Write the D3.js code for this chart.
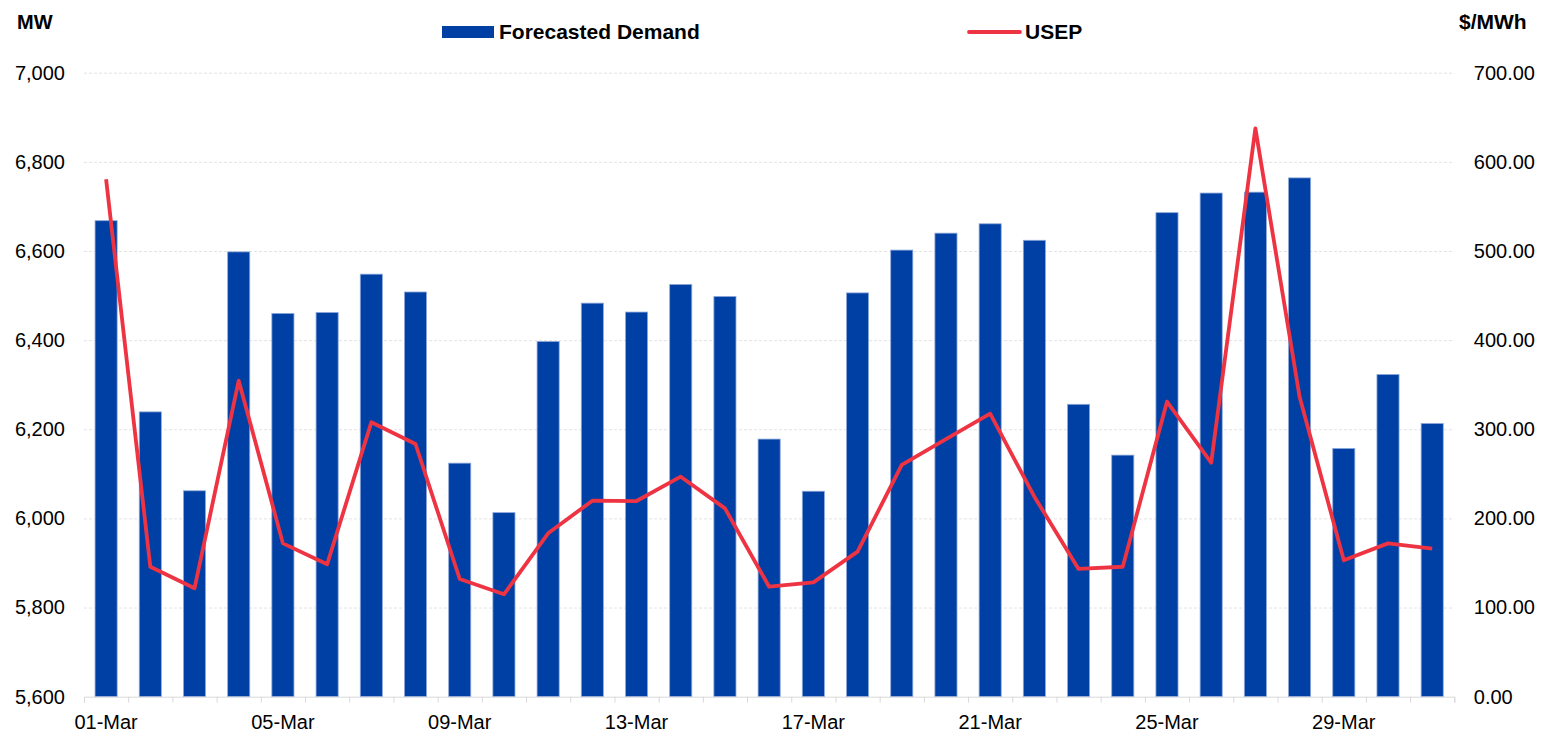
<!DOCTYPE html>
<html>
<head>
<meta charset="utf-8">
<script src="https://cdn.jsdelivr.net/npm/d3@7"></script>
<style>
  body { margin: 0; background: #fff; }
  text { font-family: "Liberation Sans", Arial, sans-serif; fill: #000; }
</style>
</head>
<body>
<div id="chart"></div>
<script>
// March daily values
let days = d3.range(1, 32);
let demand = [6668, 6239, 6062, 6598, 6460, 6462, 6548, 6508, 6124, 6013,
              6397, 6483, 6463, 6525, 6498, 6178, 6061, 6506, 6602, 6640,
              6661, 6624, 6256, 6142, 6686, 6730, 6732, 6764, 6157, 6323, 6213];
let usep = [580.4, 145.8, 121.6, 354.5, 172.0, 148.5, 307.8, 283.5, 132.0, 114.9,
            183.3, 219.9, 219.5, 246.8, 211.3, 123.4, 128.3, 162.7, 260.0, 289.0,
            317.5, 224.4, 143.3, 145.8, 331.0, 262.5, 637.6, 336.5, 153.0, 172.0, 166.0];
let leftTicks = [5600, 5800, 6000, 6200, 6400, 6600, 6800, 7000];
let rightTicks = [0, 100, 200, 300, 400, 500, 600, 700];
let labelDays = [1, 5, 9, 13, 17, 21, 25, 29];

let W = 1553, H = 736;
let margin = {top: 72.7, right: 98.7, bottom: 39.3, left: 84};
let x0 = margin.left, x1 = W - margin.right, y0 = H - margin.bottom, y1 = margin.top;

let svg = d3.select("#chart")
            .append("svg")
            .attr("width", W)
            .attr("height", H);

let x = d3.scaleBand()
          .domain(days)
          .range([x0, x1])
          .paddingInner(0.5)
          .paddingOuter(0.25);

let xb = d3.scaleLinear()
           .domain([0, days.length])
           .range([x0, x1]);

let yL = d3.scaleLinear().domain([5600, 7000]).range([y0, y1]);
let yR = d3.scaleLinear().domain([0, 700]).range([y0, y1]);

// gridlines
svg.append("g")
   .attr("transform", "translate(" + x0 + ",0)")
   .call(d3.axisLeft(yL).tickValues(leftTicks.slice(1)).tickSize(-(x1 - x0)).tickFormat(""))
   .call(g => g.select(".domain").remove())
   .selectAll("line")
   .attr("stroke", "#e3e3e3")
   .attr("stroke-dasharray", "3,2");

// bars
svg.append("g")
   .selectAll("rect")
   .data(days)
   .enter()
   .append("rect")
   .attr("x", function(d) { return x(d) })
   .attr("y", function(d, i) { return yL(demand[i]) })
   .attr("width", x.bandwidth())
   .attr("height", function(d, i) { return y0 - yL(demand[i]) })
   .attr("fill", "#0040A4")
   .attr("stroke", "#8fa9db")
   .attr("stroke-width", 0.8);

// x axis: boundary ticks
svg.append("g")
   .attr("transform", "translate(0," + y0 + ")")
   .call(d3.axisBottom(xb).tickValues(d3.range(0, days.length + 1)).tickSize(6).tickFormat(""))
   .call(g => g.selectAll(".domain,line").attr("stroke", "#d9d9d9"));

// x axis labels
svg.append("g")
   .attr("transform", "translate(0," + y0 + ")")
   .call(d3.axisBottom(x).tickValues(labelDays).tickSize(0).tickPadding(18)
           .tickFormat(function(d) { return d3.format("02")(d) + "-Mar" }))
   .call(g => g.select(".domain").remove())
   .selectAll("text")
   .style("font-size", "20px");

// left axis
svg.append("g")
   .attr("transform", "translate(" + x0 + ",0)")
   .call(d3.axisLeft(yL).tickValues(leftTicks).tickSize(0).tickPadding(19).tickFormat(d3.format(",")))
   .call(g => g.select(".domain").remove())
   .selectAll("text")
   .style("font-size", "20px");

// right axis
svg.append("g")
   .attr("transform", "translate(" + x1 + ",0)")
   .call(d3.axisRight(yR).tickValues(rightTicks).tickSize(0).tickPadding(19.5).tickFormat(d3.format(".2f")))
   .call(g => g.select(".domain").remove())
   .selectAll("text")
   .style("font-size", "20px");

// USEP line
svg.append("path")
   .datum(usep)
   .attr("fill", "none")
   .attr("stroke", "#EE3342")
   .attr("stroke-width", 3.8)
   .attr("stroke-linejoin", "round")
   .attr("d", d3.line()
     .x(function(d, i) { return x(days[i]) + x.bandwidth() / 2 })
     .y(function(d) { return yR(d) }));

// axis titles
svg.append("text")
   .attr("x", 17)
   .attr("y", 29)
   .style("font-size", "20px")
   .style("font-weight", "bold")
   .text("MW");

svg.append("text")
   .attr("x", 1459)
   .attr("y", 29)
   .style("font-size", "21px")
   .style("font-weight", "bold")
   .text("$/MWh");

// legend
svg.append("rect")
   .attr("x", 442)
   .attr("y", 26)
   .attr("width", 52)
   .attr("height", 12)
   .attr("fill", "#0040A4");

svg.append("text")
   .attr("x", 499)
   .attr("y", 39)
   .style("font-size", "21px")
   .style("font-weight", "bold")
   .text("Forecasted Demand");

svg.append("line")
   .attr("x1", 969)
   .attr("x2", 1020)
   .attr("y1", 32)
   .attr("y2", 32)
   .attr("stroke", "#EE3342")
   .attr("stroke-width", 3.8)
   .attr("stroke-linecap", "round");

svg.append("text")
   .attr("x", 1025)
   .attr("y", 39)
   .style("font-size", "21px")
   .style("font-weight", "bold")
   .text("USEP");
</script>
</body>
</html>
